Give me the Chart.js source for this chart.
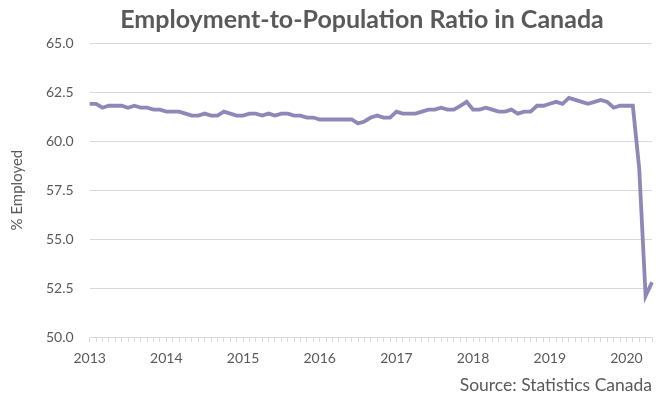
<!DOCTYPE html>
<html>
<head>
<meta charset="utf-8">
<script src="https://cdn.jsdelivr.net/npm/chart.js@4/dist/chart.umd.min.js"></script>
<style>
html,body{margin:0;padding:0;background:#fff;}
#wrap{width:664px;height:396px;position:relative;}
</style>
</head>
<body>
<div id="wrap"><canvas id="c" width="664" height="396"></canvas></div>
<script>
const years = ['2013','2014','2015','2016','2017','2018','2019','2020'];
const employmentRate = [
  61.9, 61.9, 61.7, 61.8, 61.8, 61.8, 61.7, 61.8, 61.7, 61.7, 61.6, 61.6,
  61.5, 61.5, 61.5, 61.4, 61.3, 61.3, 61.4, 61.3, 61.3, 61.5, 61.4, 61.3,
  61.3, 61.4, 61.4, 61.3, 61.4, 61.3, 61.4, 61.4, 61.3, 61.3, 61.2, 61.2,
  61.1, 61.1, 61.1, 61.1, 61.1, 61.1, 60.9, 61.0, 61.2, 61.3, 61.2, 61.2,
  61.5, 61.4, 61.4, 61.4, 61.5, 61.6, 61.6, 61.7, 61.6, 61.6, 61.8, 62.0,
  61.6, 61.6, 61.7, 61.6, 61.5, 61.5, 61.6, 61.4, 61.5, 61.5, 61.8, 61.8,
  61.9, 62.0, 61.9, 62.2, 62.1, 62.0, 61.9, 62.0, 62.1, 62.0, 61.7, 61.8,
  61.8, 61.8, 58.6, 52.1, 52.8
];
const yTicks = [50, 52.5, 55, 57.5, 60, 62.5, 65];
const chartTitle = 'Employment-to-Population Ratio in Canada';
const sourceNote = 'Source: Statistics Canada';

const months = [];
for (const y of years) for (let m = 1; m <= 12; m++) months.push(y + '-' + String(m).padStart(2,'0'));
const labels = months.slice(0, employmentRate.length);

const FONT = 'Lato, "Open Sans", sans-serif';
const GREY = '#595959';

const titlePlugin = {
  id: 'customTitle',
  afterDraw(chart) {
    const ctx = chart.ctx;
    ctx.save();
    ctx.fillStyle = GREY;
    ctx.font = 'bold 25px ' + FONT;
    ctx.textAlign = 'center';
    ctx.textBaseline = 'middle';
    ctx.fillText(chartTitle, 362, 20);
    ctx.restore();
  }
};

new Chart(document.getElementById('c'), {
  type: 'line',
  data: {
    labels: labels,
    datasets: [{
      data: employmentRate,
      borderColor: '#8f87b7',
      borderWidth: 3.8,
      pointRadius: 0,
      tension: 0,
      fill: false
    }]
  },
  plugins: [titlePlugin],
  options: {
    responsive: false,
    animation: false,
    layout: { padding: { left: 8, right: 12, top: 43, bottom: 0 } },
    plugins: {
      legend: { display: false },
      tooltip: { enabled: false },
      title: { display: false },
      subtitle: {
        display: true,
        position: 'bottom',
        align: 'end',
        text: sourceNote,
        color: GREY,
        font: { family: FONT, size: 17.5 },
        padding: { top: 0, bottom: 0 }
      }
    },
    scales: {
      x: {
        type: 'category',
        offset: false,
        grid: {
          display: true,
          drawOnChartArea: false,
          drawTicks: true,
          tickLength: 5,
          color: '#d9d9d9'
        },
        border: { display: true, color: '#d9d9d9', width: 1 },
        ticks: {
          autoSkip: false,
          maxRotation: 0,
          minRotation: 0,
          color: GREY,
          font: { family: FONT, size: 14 },
          padding: 8,
          callback: function(v, i) { return i % 12 === 0 ? years[i / 12] : ''; }
        }
      },
      y: {
        min: yTicks[0],
        max: yTicks[yTicks.length - 1],
        afterBuildTicks: function(axis) { axis.ticks = yTicks.map(v => ({ value: v })); },
        grid: { color: '#d9d9d9', lineWidth: 1, drawTicks: false },
        border: { display: false },
        ticks: {
          color: GREY,
          font: { family: FONT, size: 14 },
          padding: 16,
          callback: function(v) { return Number(v).toFixed(1); }
        },
        title: {
          display: true,
          text: '% Employed',
          color: GREY,
          font: { family: FONT, size: 15 },
          padding: { top: 0, bottom: 4 }
        }
      }
    }
  }
});
</script>
</body>
</html>
